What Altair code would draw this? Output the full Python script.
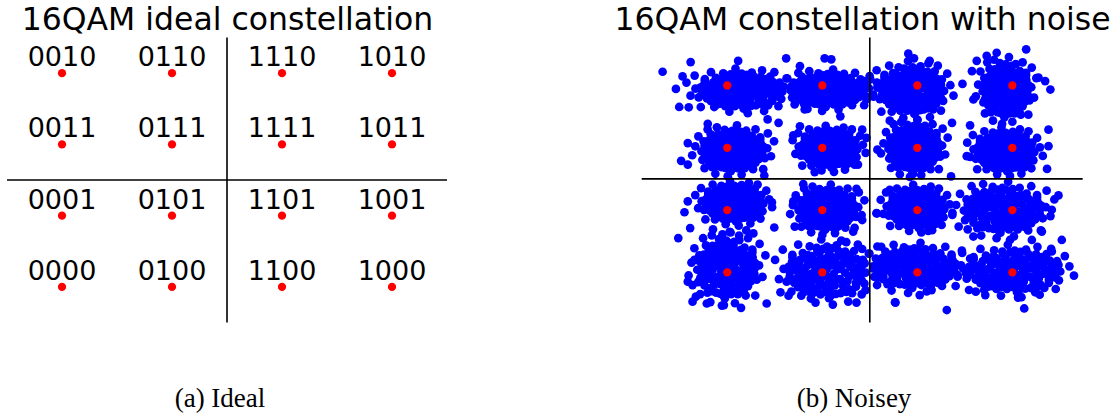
import altair as alt
import pandas as pd

# ---------------- ideal 16QAM constellation ----------------
IDEAL_I = [-3, -1, 1, 3, -3, -1, 1, 3, -3, -1, 1, 3, -3, -1, 1, 3]
IDEAL_Q = [3, 3, 3, 3, 1, 1, 1, 1, -1, -1, -1, -1, -3, -3, -3, -3]
BIT_LABELS = [
    "0010", "0110", "1110", "1010",
    "0011", "0111", "1111", "1011",
    "0001", "0101", "1101", "1001",
    "0000", "0100", "1100", "1000",
]

# ---------------- received symbols with noise ----------------
# Each cluster: its ideal point, the offset of the cloud centre and its spread (I, Q)
CLUSTER_SHIFT_I = [0.26, 0.15, -0.13, -0.12, 0.14, 0.13, -0.05, -0.17,
                   0.12, 0.12, -0.03, -0.17, 0.01, 0.06, -0.02, 0.00]
CLUSTER_SHIFT_Q = [-0.16, -0.14, -0.14, -0.14, -0.08, -0.02, 0.00, -0.11,
                   0.23, 0.03, 0.06, 0.02, 0.13, 0.03, 0.16, 0.06]
CLUSTER_SPREAD_I = [0.86, 0.77, 0.66, 0.48, 0.65, 0.58, 0.53, 0.60,
                    0.61, 0.59, 0.57, 0.81, 0.61, 0.81, 0.87, 0.96]
CLUSTER_SPREAD_Q = [0.56, 0.52, 0.74, 0.84, 0.64, 0.58, 0.72, 0.61,
                    0.56, 0.63, 0.60, 0.71, 0.92, 0.82, 0.63, 0.66]
CLUSTER_MIRROR = [1, -1, 1, -1, -1, 1, -1, 1, 1, -1, 1, -1, -1, 1, -1, 1]

# normalised noise samples shared by the clusters
NOISE_U = [0.05, -0.18, 0.22, -0.06, 0.15, -0.25, 0.31, -0.40, 0.44, -0.12,
           0.09, 0.38, -0.33, -0.47, 0.27, -0.28, 0.52, 0.02, -0.05, 0.66,
           0.58, 0.35, -0.15, -0.52, -0.71, -0.63, -0.30, 0.12, 0.47, 0.72,
           0.70, 0.10, -0.68, -0.45, 0.60, 0.88, 0.84, 0.62, 0.28, -0.12,
           -0.48, -0.80, -0.92, -0.86, -0.58, -0.22, 0.18, 0.52, 0.82, 0.95,
           0.90, -0.70, 0.40, -0.95, 0.05, -0.35, 1.05, 0.98, 0.75, 0.30,
           -0.40, -0.85, -1.08, -1.00, -0.62, 0.10, 0.70, 1.02, -0.20, 0.20,
           -0.78, 0.80, -0.25, 0.58, -0.55,
           0.00, -0.10, 0.12, 0.30, -0.30, 0.40, -0.15, 0.25, -0.42, 0.50,
           -0.60, 0.62, 0.05, -0.35, 0.20, -0.55, 0.75, -0.82, 0.45, -0.40,
           0.00, -0.20, 0.35, 0.65, -0.65, -0.75, 0.80, 0.55, -0.55, 0.15,
           -0.05, 0.92, -0.92, 0.85, -0.30, 0.30, -0.20, 0.68, -0.68, 0.10,
           -0.85, 0.95, -0.10, 0.45, -0.50,
           1.25, -1.20, 0.55, -0.70, 0.95, -0.25, 1.15, -1.30, 0.20, -0.95,
           1.35, -0.10, 0.85, -1.10, 0.60]
NOISE_V = [0.12, 0.03, -0.10, -0.21, 0.24, 0.19, 0.08, -0.12, 0.27, 0.46,
           -0.43, -0.30, -0.36, 0.22, 0.41, 0.43, -0.05, 0.50, -0.55, 0.18,
           -0.38, 0.62, 0.70, 0.51, 0.06, -0.33, -0.66, -0.72, -0.58, -0.15,
           0.40, 0.68, -0.12, 0.64, 0.55, 0.05, -0.35, -0.70, -0.88, -0.90,
           -0.76, -0.45, -0.02, 0.38, 0.72, 0.92, 0.90, 0.78, 0.48, 0.22,
           -0.20, -0.62, -0.85, 0.18, 0.97, -0.90, -0.05, 0.45, 0.80, 1.02,
           0.98, 0.65, 0.10, -0.40, -0.95, -1.05, -0.85, -0.48, -0.30, -0.32,
           0.20, -0.60, -0.80, 0.30, -0.55,
           0.00, 0.25, -0.22, 0.22, -0.05, 0.10, -0.40, -0.55, 0.35, 0.45,
           -0.15, -0.20, 0.35, 0.60, 0.55, 0.05, 0.00, 0.05, -0.40, -0.55,
           -0.80, 0.80, 0.80, 0.65, 0.45, -0.30, -0.45, -0.80, -0.80, -0.95,
           0.88, 0.35, -0.20, 0.15, 0.25, -0.30, -0.65, 0.30, 0.30, 0.80,
           0.55, -0.35, -0.05, 0.65, -0.35,
           0.20, -0.30, 1.15, 1.05, -0.90, -1.22, 0.70, 0.45, -1.30, -0.95,
           -0.25, 1.25, 1.05, 0.85, -1.18]

# isolated received symbols far from the cloud cores
STRAY_I = [-4.36, -3.77, -3.94, -4.08, -4.01, -3.81, -2.77, -1.76,
           -3.41, -3.83, -3.97, -3.83, -1.92, -2.15, -2.22,
           -3.83, -3.90, -3.78, -4.03, -2.01, -2.06,
           -3.83, -3.73, -3.66, -3.73, -3.43, -3.07, -2.71, -2.17, -1.88, -3.69,
           -1.47, -0.95, -0.81, -1.37, -0.62, -0.09, -0.07, 0.81, 0.93, 1.26,
           -1.47, -1.61, -0.16, -0.07, -0.25, 0.16, 0.42, 0.91, -1.16,
           -1.40, -1.61, -1.58, -0.28, -0.16, -0.35, -0.60, 0.14, 0.42, 1.23, -0.16, 0.16,
           -1.65, -1.24, -0.28, -0.09, 0.54, 1.05, 1.30,
           3.29, 2.67, 2.46, 2.25, 1.95, 2.15, 3.80, 3.69, 3.55, 2.18,
           2.11, 3.76, 3.76, 3.73, 1.73, 2.04, 1.71,
           3.97, 3.83, 3.62, 4.04, 3.41, 2.95, 2.18, 1.87,
           1.62, 3.25, 3.12, 3.48, 3.97, 3.83, 2.23, 2.43, 0.15, 0.53,
           -3.30, -2.95, -2.60, -3.10, -2.75, -2.45]
STRAY_Q = [3.44, 3.75, 3.29, 2.89, 2.31, 2.30, 3.79, 3.87,
           1.77, 1.15, 0.58, 0.46, 1.80, 1.91, 0.11,
           -0.72, -1.07, -1.58, -1.90, -1.56, -0.75,
           -3.30, -3.41, -3.78, -3.94, -4.00, -4.05, -4.14, -4.00, -3.64, -2.60,
           3.62, 3.87, 3.84, 2.23, 2.01, 3.14, 2.55, 4.02, 3.87, 3.79,
           1.69, 1.40, 1.58, 1.32, 0.46, 0.94, 1.87, 0.16, 0.22,
           -0.17, -0.72, -1.53, -0.32, -1.32, -1.69, -1.98, -1.10, -0.35, -1.67, -2.25, -2.17,
           -3.62, -3.84, -3.97, -3.57, -3.97, -3.73, -3.57,
           4.16, 4.05, 3.95, 3.79, 3.05, 3.46, 2.87, 3.14, 3.25, 2.55,
           1.72, 1.58, 1.05, 0.32, 1.80, 0.73, 0.08,
           -0.53, -0.99, -1.69, -1.96, -1.96, -1.96, -1.85, -1.53,
           -4.21, -4.16, -3.81, -3.64, -2.76, -2.33, -3.62, -3.73, -1.11, -3.96,
           -1.62, -1.70, -1.65, -1.78, -1.82, -1.75]

# ---------------- tables ----------------
ideal = pd.DataFrame({"i": IDEAL_I, "q": IDEAL_Q, "bits": BIT_LABELS})

rows = []
for k in range(len(IDEAL_I)):
    ci = IDEAL_I[k] + CLUSTER_SHIFT_I[k]
    cq = IDEAL_Q[k] + CLUSTER_SHIFT_Q[k]
    for u, v in zip(NOISE_U, NOISE_V):
        rows.append({"i": ci + CLUSTER_MIRROR[k] * u * CLUSTER_SPREAD_I[k],
                     "q": cq + v * CLUSTER_SPREAD_Q[k]})
for si, sq in zip(STRAY_I, STRAY_Q):
    rows.append({"i": si, "q": sq})
received = pd.DataFrame(rows)

left_axes = pd.DataFrame({"x": [-4, 0], "x2": [4, 0], "y": [0, -4], "y2": [0, 4]})
right_axes = pd.DataFrame({"x": [-4.8, 0], "x2": [4.48, 0], "y": [0, -4.61], "y2": [0, 4.54]})

# ---------------- scales (each panel maps into its own region) ----------------
def sc(domain, rng):
    return alt.Scale(domain=domain, range=rng, nice=False, zero=False)

LX = sc([-4, 4], [7, 447])
LY = sc([-4, 4], [322.5, 37.5])
RX = sc([-4.8, 4.48], [641.7, 1082.7])
RY = sc([-4.61, 4.54], [322.5, 37.5])

SANS = "DejaVu Sans"
SERIF = "Liberation Serif"

# left panel
left_rules = alt.Chart(left_axes).mark_rule(color="black", strokeWidth=1.6).encode(
    x=alt.X("x:Q", scale=LX, axis=None), x2="x2:Q",
    y=alt.Y("y:Q", scale=LY, axis=None), y2="y2:Q")
left_points = alt.Chart(ideal).mark_circle(size=68, color="#ff0000", opacity=1).encode(
    x=alt.X("i:Q", scale=LX, axis=None), y=alt.Y("q:Q", scale=LY, axis=None))
left_labels = alt.Chart(ideal).mark_text(
    font=SANS, fontSize=27, align="center", baseline="alphabetic", dy=-7, color="black"
).encode(x=alt.X("i:Q", scale=LX, axis=None), y=alt.Y("q:Q", scale=LY, axis=None), text="bits:N")

# right panel
right_cloud = alt.Chart(received).mark_circle(size=76, color="#0000ff", opacity=1).encode(
    x=alt.X("i:Q", scale=RX, axis=None), y=alt.Y("q:Q", scale=RY, axis=None))
right_points = alt.Chart(ideal).mark_circle(size=68, color="#ff0000", opacity=1).encode(
    x=alt.X("i:Q", scale=RX, axis=None), y=alt.Y("q:Q", scale=RY, axis=None))
right_rules = alt.Chart(right_axes).mark_rule(color="black", strokeWidth=1.6).encode(
    x=alt.X("x:Q", scale=RX, axis=None), x2="x2:Q",
    y=alt.Y("y:Q", scale=RY, axis=None), y2="y2:Q")

# titles and captions
texts = pd.DataFrame({
    "t": ["16QAM ideal constellation", "16QAM constellation with noise"],
    "c": ["(a) Ideal", "(b) Noisey"],
})
title_left = alt.Chart(texts.iloc[[0]]).mark_text(
    font=SANS, fontSize=31.5, align="center", baseline="alphabetic", color="black"
).encode(x=alt.value(227.5), y=alt.value(29.5), text="t:N")
title_right = alt.Chart(texts.iloc[[1]]).mark_text(
    font=SANS, fontSize=31.5, align="center", baseline="alphabetic", color="black"
).encode(x=alt.value(862.5), y=alt.value(29.5), text="t:N")
cap_left = alt.Chart(texts.iloc[[0]]).mark_text(
    font=SERIF, fontSize=27, align="center", baseline="alphabetic", color="black"
).encode(x=alt.value(220), y=alt.value(407), text="c:N")
cap_right = alt.Chart(texts.iloc[[1]]).mark_text(
    font=SERIF, fontSize=27, align="center", baseline="alphabetic", color="black"
).encode(x=alt.value(854), y=alt.value(407), text="c:N")

chart = alt.layer(
    left_points, left_labels, left_rules,
    right_cloud, right_points, right_rules,
    title_left, title_right, cap_left, cap_right,
).resolve_scale(x="independent", y="independent").properties(
    width=1115, height=419, padding=0,
    autosize=alt.AutoSizeParams(type="none"),
    background="white",
).configure_view(strokeWidth=0)

chart.save("out.html", embed_options={"renderer": "svg", "actions": False})
